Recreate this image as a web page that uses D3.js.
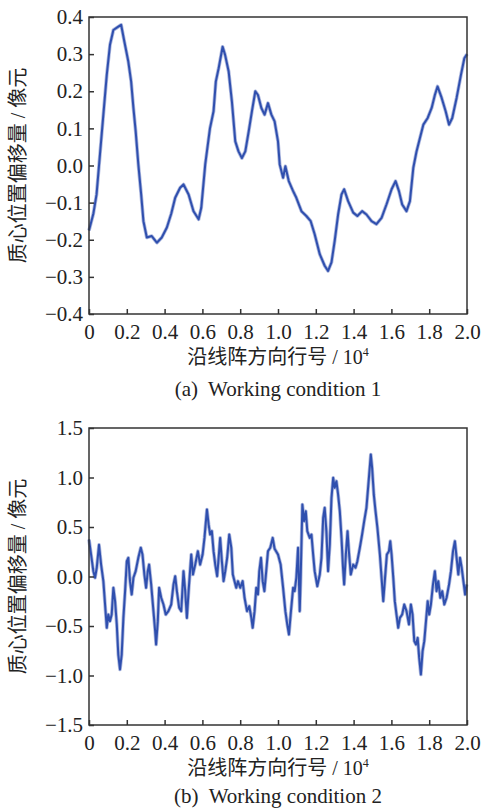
<!DOCTYPE html>
<html>
<head>
<meta charset="utf-8">
<script src="https://cdn.jsdelivr.net/npm/d3@7"></script>
<style>
  body { margin: 0; background: #fff; }
  svg text { font-family: "Liberation Serif", "Noto Sans CJK SC", serif; fill: #222; }
</style>
</head>
<body>
<svg id="chart" width="481" height="810"></svg>
<script>
/* Two panels of centroid offset vs. row number along the line array.
   Values (x in units of 10^4 rows). */
const xTicks = [0, 0.2, 0.4, 0.6, 0.8, 1.0, 1.2, 1.4, 1.6, 1.8, 2.0];
const yTicks1 = [-0.4, -0.3, -0.2, -0.1, 0.0, 0.1, 0.2, 0.3, 0.4];
const yTicks2 = [-1.5, -1.0, -0.5, 0.0, 0.5, 1.0, 1.5];

const cond1 = [
  [0, -0.175], [0.023, -0.13], [0.04, -0.078], [0.058, 0.03], [0.076, 0.137], [0.094, 0.244],
  [0.111, 0.325], [0.129, 0.365], [0.155, 0.374], [0.17, 0.379], [0.187, 0.334], [0.208, 0.28],
  [0.223, 0.226], [0.235, 0.155], [0.247, 0.092], [0.261, 0.003], [0.276, -0.078], [0.288, -0.15],
  [0.306, -0.194], [0.332, -0.19], [0.359, -0.208], [0.385, -0.194], [0.412, -0.167], [0.435, -0.13],
  [0.456, -0.087], [0.482, -0.06], [0.5, -0.051], [0.527, -0.078], [0.553, -0.123], [0.58, -0.145],
  [0.594, -0.114], [0.615, 0.003], [0.64, 0.1], [0.659, 0.146], [0.671, 0.226], [0.686, 0.262],
  [0.707, 0.32], [0.72, 0.298], [0.739, 0.253], [0.756, 0.173], [0.774, 0.065], [0.791, 0.038],
  [0.809, 0.02], [0.827, 0.038], [0.845, 0.092], [0.862, 0.146], [0.88, 0.2], [0.894, 0.19],
  [0.912, 0.155], [0.929, 0.137], [0.947, 0.168], [0.965, 0.137], [0.982, 0.119], [1.0, 0.065],
  [1.009, 0.003], [1.027, -0.033], [1.039, -0.002], [1.057, -0.042], [1.08, -0.069], [1.097, -0.087],
  [1.124, -0.123], [1.15, -0.136], [1.173, -0.15], [1.194, -0.185], [1.221, -0.239], [1.247, -0.27],
  [1.265, -0.284], [1.283, -0.261], [1.3, -0.203], [1.318, -0.132], [1.336, -0.078], [1.35, -0.064],
  [1.371, -0.096], [1.398, -0.127], [1.42, -0.136], [1.445, -0.123], [1.468, -0.132], [1.495, -0.15],
  [1.521, -0.158], [1.548, -0.141], [1.574, -0.105], [1.601, -0.064], [1.622, -0.042], [1.64, -0.069],
  [1.657, -0.105], [1.68, -0.123], [1.698, -0.096], [1.716, -0.006], [1.733, 0.038], [1.751, 0.074],
  [1.769, 0.11], [1.792, 0.128], [1.813, 0.155], [1.83, 0.19], [1.844, 0.213], [1.866, 0.182],
  [1.887, 0.146], [1.905, 0.11], [1.922, 0.128], [1.945, 0.182], [1.968, 0.244], [1.986, 0.289],
  [2.0, 0.30]
];

const cond2 = [
  [0, 0.374], [0.011, 0.22], [0.023, 0.054], [0.032, -0.013], [0.041, 0.088], [0.053, 0.32],
  [0.064, 0.12], [0.076, -0.047], [0.085, -0.283], [0.094, -0.518], [0.102, -0.384], [0.111, -0.451],
  [0.12, -0.384], [0.129, -0.114], [0.138, -0.249], [0.147, -0.485], [0.155, -0.788], [0.164, -0.939],
  [0.173, -0.788], [0.182, -0.418], [0.191, -0.148], [0.2, 0.155], [0.208, 0.189], [0.217, -0.047],
  [0.226, -0.182], [0.235, -0.013], [0.247, 0.054], [0.261, 0.189], [0.274, 0.29], [0.283, 0.222],
  [0.293, 0.02], [0.302, -0.114], [0.311, 0.054], [0.318, 0.12], [0.329, -0.081], [0.341, -0.35],
  [0.35, -0.552], [0.355, -0.687], [0.364, -0.451], [0.371, -0.114], [0.382, -0.215], [0.394, -0.283],
  [0.406, -0.384], [0.42, -0.35], [0.435, -0.283], [0.447, -0.081], [0.456, 0.003], [0.465, -0.148],
  [0.477, -0.316], [0.488, -0.35], [0.5, 0.054], [0.509, -0.148], [0.518, -0.418], [0.527, -0.148],
  [0.541, 0.222], [0.55, 0.02], [0.562, 0.12], [0.576, 0.256], [0.588, 0.12], [0.601, 0.222],
  [0.611, 0.39], [0.624, 0.677], [0.633, 0.525], [0.641, 0.424], [0.65, 0.458], [0.659, 0.256],
  [0.668, 0.12], [0.678, 0.003], [0.686, 0.189], [0.694, 0.39], [0.703, 0.155], [0.712, -0.047],
  [0.721, 0.054], [0.731, 0.189], [0.742, 0.424], [0.753, 0.29], [0.761, 0.02], [0.77, -0.047],
  [0.779, -0.114], [0.788, -0.047], [0.8, -0.114], [0.813, -0.047], [0.823, -0.215], [0.836, -0.35],
  [0.848, -0.3], [0.859, -0.418], [0.866, -0.518], [0.876, -0.35], [0.885, -0.114], [0.894, -0.182],
  [0.901, 0.054], [0.91, 0.189], [0.919, -0.047], [0.928, -0.148], [0.936, 0.02], [0.947, 0.256],
  [0.959, 0.29], [0.972, 0.39], [0.982, 0.28], [1.0, 0.222], [1.014, 0.12], [1.027, -0.114],
  [1.039, -0.35], [1.049, -0.485], [1.058, -0.586], [1.067, -0.384], [1.08, -0.114], [1.088, -0.148],
  [1.097, -0.013], [1.106, 0.29], [1.115, -0.35], [1.12, -0.013], [1.129, 0.727], [1.138, 0.559],
  [1.147, 0.66], [1.155, 0.458], [1.168, 0.39], [1.177, 0.424], [1.186, 0.222], [1.194, 0.054],
  [1.208, -0.098], [1.221, 0.02], [1.23, 0.189], [1.239, 0.593], [1.247, 0.694], [1.256, 0.458],
  [1.265, 0.054], [1.274, 0.323], [1.283, 0.795], [1.292, 0.997], [1.3, 0.896], [1.309, 0.963],
  [1.318, 0.828], [1.327, 0.66], [1.336, 0.39], [1.344, 0.088], [1.35, -0.081], [1.359, 0.222],
  [1.368, 0.458], [1.375, 0.256], [1.385, 0.02], [1.398, 0.12], [1.41, 0.088], [1.42, 0.155],
  [1.433, 0.29], [1.445, 0.424], [1.456, 0.559], [1.468, 0.694], [1.481, 0.997], [1.491, 1.232],
  [1.498, 1.098], [1.507, 0.828], [1.516, 0.66], [1.526, 0.492], [1.539, 0.222], [1.548, -0.013],
  [1.557, -0.249], [1.565, -0.047], [1.576, 0.222], [1.587, 0.256], [1.594, 0.357], [1.601, 0.222],
  [1.61, -0.013], [1.618, -0.249], [1.627, -0.384], [1.636, -0.518], [1.645, -0.418], [1.657, -0.384],
  [1.668, -0.283], [1.68, -0.35], [1.693, -0.485], [1.703, -0.283], [1.712, -0.384], [1.721, -0.653],
  [1.73, -0.687], [1.739, -0.62], [1.747, -0.822], [1.756, -0.99], [1.765, -0.754], [1.774, -0.653],
  [1.783, -0.451], [1.792, -0.249], [1.8, -0.384], [1.809, -0.283], [1.82, -0.081], [1.83, 0.054],
  [1.839, -0.148], [1.848, -0.047], [1.859, -0.215], [1.869, -0.148], [1.88, -0.283], [1.892, -0.215],
  [1.905, -0.081], [1.915, 0.054], [1.926, 0.256], [1.936, 0.357], [1.945, 0.189], [1.954, 0.02],
  [1.963, 0.189], [1.972, 0.088], [1.981, -0.047], [1.99, -0.182], [1.998, -0.081]
];

const LEFT = 89, RIGHT = 467;
const LINE_COLOR = '#2f4fae';
const AXIS_COLOR = '#333';
const FONT_SIZE = 21;
const fmtY = d3.format('.1f');
const fmtX = d => d === 0 ? '0' : d3.format('.1f')(d);

const svg = d3.select('#chart');

function drawPanel({data, top, bottom, yDomain, yTicks, caption, captionOffset}) {
  const x = d3.scaleLinear().domain([0, 2]).range([LEFT, RIGHT]);
  const y = d3.scaleLinear().domain(yDomain).range([bottom, top]);
  const g = svg.append('g');

  // fuzzy band under the line, then the line itself
  const line = d3.line().x(d => x(d[0])).y(d => y(d[1]));
  g.append('path').datum(data)
    .attr('d', line).attr('fill', 'none')
    .attr('stroke', '#8a9ad0').attr('stroke-width', 3.6)
    .attr('stroke-linejoin', 'round').attr('opacity', 0.7);
  g.append('path').datum(data)
    .attr('d', line).attr('fill', 'none')
    .attr('stroke', LINE_COLOR).attr('stroke-width', 2)
    .attr('stroke-linejoin', 'round');

  // frame
  g.append('rect')
    .attr('x', LEFT).attr('y', top)
    .attr('width', RIGHT - LEFT).attr('height', bottom - top)
    .attr('fill', 'none').attr('stroke', AXIS_COLOR).attr('stroke-width', 1.5);

  // axes with inward ticks
  const xAxis = g.append('g').attr('transform', `translate(0,${bottom})`)
    .call(d3.axisBottom(x).tickValues(xTicks).tickSizeInner(-5).tickSizeOuter(0).tickPadding(10).tickFormat(fmtX));
  const yAxis = g.append('g').attr('transform', `translate(${LEFT},0)`)
    .call(d3.axisLeft(y).tickValues(yTicks).tickSizeInner(-5).tickSizeOuter(0).tickPadding(6).tickFormat(fmtY));
  for (let axis of [xAxis, yAxis]) {
    axis.select('.domain').remove();
    axis.selectAll('line').attr('stroke', AXIS_COLOR).attr('stroke-width', 1.5);
    axis.selectAll('text').attr('font-size', FONT_SIZE)
      .style('font-family', '"Liberation Serif", serif').attr('fill', '#222');
  }
  xAxis.selectAll('text').attr('dy', '0.71em');

  // axis titles
  const xt = g.append('text')
    .attr('x', (LEFT + RIGHT) / 2).attr('y', bottom + 50)
    .attr('text-anchor', 'middle').attr('font-size', 20);
  xt.append('tspan').text('沿线阵方向行号 / 10');
  xt.append('tspan').attr('dy', -8).attr('font-size', 12).text('4');

  g.append('text')
    .attr('transform', `translate(25,${(top + bottom) / 2}) rotate(-90)`)
    .attr('text-anchor', 'middle').attr('font-size', 20)
    .text('质心位置偏移量 / 像元');

  g.append('text')
    .attr('x', (LEFT + RIGHT) / 2).attr('y', bottom + captionOffset)
    .attr('text-anchor', 'middle').attr('font-size', FONT_SIZE)
    .style('white-space', 'pre')
    .text(caption);
}

drawPanel({data: cond1, top: 17, bottom: 314, yDomain: [-0.4, 0.4], yTicks: yTicks1,
  caption: '(a)  Working condition 1', captionOffset: 82});
drawPanel({data: cond2, top: 428, bottom: 725, yDomain: [-1.5, 1.5], yTicks: yTicks2,
  caption: '(b)  Working condition 2', captionOffset: 78});
</script>
</body>
</html>
